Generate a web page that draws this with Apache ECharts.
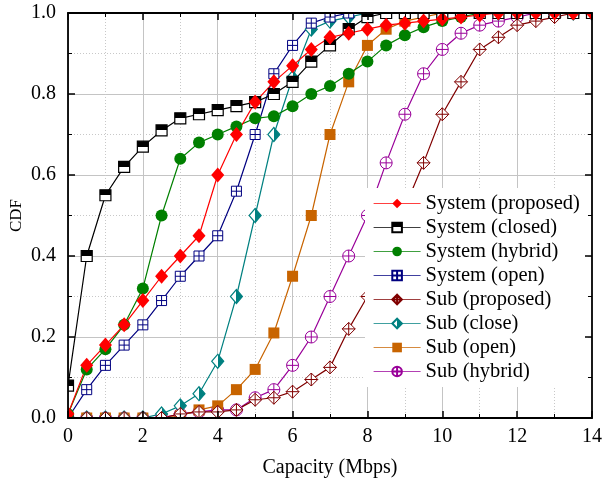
<!DOCTYPE html>
<html>
<head>
<meta charset="utf-8">
<script src="https://cdn.jsdelivr.net/npm/echarts@6/dist/echarts.min.js"></script>
<style>html,body{margin:0;padding:0;background:#fff}#c{width:603px;height:483px}</style>
</head>
<body>
<div id="c"></div>
<script>
const capacity = [0,0.5,1,1.5,2,2.5,3,3.5,4,4.5,5,5.5,6,6.5,7,7.5,8,8.5,9,9.5,10,10.5,11,11.5,12,12.5,13,13.5,14];
const xTicks = [0,2,4,6,8,10,12,14];
const yTicks = [0.0,0.2,0.4,0.6,0.8,1.0];

const sysProposed = [0.01,0.13,0.18,0.23,0.29,0.35,0.40,0.45,0.60,0.70,0.78,0.83,0.87,0.91,0.94,0.95,0.96,0.97,0.975,0.98,0.985,0.99,0.995,1,1,1,1,1,1];
const sysClosed   = [0.08,0.40,0.55,0.62,0.67,0.71,0.74,0.75,0.76,0.77,0.78,0.80,0.83,0.88,0.92,0.96,0.99,1,1,1,1,1,1,1,1,1,1,1,1];
const sysHybrid   = [0.01,0.12,0.17,0.23,0.32,0.50,0.64,0.68,0.70,0.72,0.74,0.745,0.77,0.80,0.82,0.85,0.88,0.92,0.945,0.965,0.98,0.99,1,1,1,1,1,1,1];
const sysOpen     = [0,0.07,0.13,0.18,0.23,0.29,0.35,0.40,0.45,0.56,0.70,0.85,0.92,0.975,0.99,1,1,1,1,1,1,1,1,1,1,1,1,1,1];
const subProposed = [0,0,0,0,0,0,0.01,0.015,0.015,0.02,0.045,0.05,0.065,0.095,0.125,0.22,0.30,0.40,0.52,0.63,0.75,0.83,0.91,0.94,0.97,0.98,0.99,1,1];
const subClose    = [0,0,0,0,0,0.01,0.03,0.06,0.14,0.30,0.50,0.70,0.84,0.96,0.98,0.99,1,1,1,1,1,1,1,1,1,1,1,1,1];
const subOpen     = [0,0,0,0,0,0,0.005,0.02,0.03,0.07,0.12,0.21,0.35,0.50,0.70,0.83,0.92,0.96,0.98,0.99,1,1,1,1,1,1,1,1,1];
const subHybrid   = [0,0,0,0,0,0,0.01,0.015,0.02,0.02,0.05,0.07,0.13,0.20,0.30,0.40,0.50,0.63,0.75,0.85,0.91,0.95,0.97,0.98,0.99,1,1,1,1];

const names = ['System (proposed)','System (closed)','System (hybrid)','System (open)','Sub (proposed)','Sub (close)','Sub (open)','Sub (hybrid)'];

const chart = echarts.init(document.getElementById('c'), null, {renderer:'canvas'});
const FONT = '"Liberation Serif","Times New Roman",serif';
const pairs = arr => capacity.map((x,i)=>[x,arr[i]]);
const G = echarts.graphic;

function mk(name, data, color, symbol, size, fill, bw) {
  return {
    name, type:'line', data:pairs(data), z:2,
    symbol, symbolSize:size, showSymbol:true,
    lineStyle:{color, width:1.2},
    itemStyle:{color:fill, borderColor:color, borderWidth:bw},
    emphasis:{disabled:true},
    clip:true, animation:false
  };
}
const cross = ' M5,0V10 M0,5H10';
const seriesList = [
  mk(names[0], sysProposed, '#ff0000', 'diamond', [13,15], '#ff0000', 0),
  mk(names[1], sysClosed, '#000000', 'rect', 11,
     new G.LinearGradient(0,0,0,1,[{offset:0,color:'#000'},{offset:0.5,color:'#000'},{offset:0.5,color:'#fff'},{offset:1,color:'#fff'}]), 1.2),
  mk(names[2], sysHybrid, '#008000', 'circle', 12, '#008000', 0),
  mk(names[3], sysOpen, '#000080', 'path://M0,0H10V10H0Z'+cross, 10, '#ffffff', 1),
  mk(names[4], subProposed, '#800000', 'path://M5,0L10,5L5,10L0,5Z'+cross, 13, '#ffffff', 1),
  mk(names[5], subClose, '#008080', 'diamond', [12,14],
     new G.LinearGradient(0,0,1,0,[{offset:0,color:'#fff'},{offset:0.5,color:'#fff'},{offset:0.5,color:'#008080'},{offset:1,color:'#008080'}]), 1.2),
  mk(names[6], subOpen, '#c86400', 'rect', 11, '#c86400', 0),
  mk(names[7], subHybrid, '#990099', 'path://M0,5A5,5 0 1,0 10,5A5,5 0 1,0 0,5Z'+cross, 12, '#ffffff', 1)
];

const frame = {
  z:10,
  axisLine:{show:true, onZero:false, lineStyle:{color:'#000', width:1.8}},
  axisTick:{show:true, inside:true, length:7, lineStyle:{color:'#000', width:1.5}},
  minorTick:{show:true, splitNumber:2, length:4, lineStyle:{color:'#000', width:1}},
  splitLine:{show:false}
};
const gridOnly = {
  z:0,
  axisLine:{show:false}, axisTick:{show:false}, axisLabel:{show:false},
  minorTick:{show:false, splitNumber:2},
  splitLine:{show:true, lineStyle:{color:'#c4c4c4', width:1}},
  minorSplitLine:{show:true, lineStyle:{color:'#c8c8c8', width:1, type:[1,2]}}
};
const xRange = {type:'value', min:xTicks[0], max:xTicks[xTicks.length-1], interval:2};
const yRange = {type:'value', min:yTicks[0], max:yTicks[yTicks.length-1], interval:0.2};

const option = {
  backgroundColor:'#fff',
  animation:false,
  grid:{left:68, right:11, top:13, bottom:65, containLabel:false, outerBoundsMode:'none'},
  legend:{
    data:names, left:365, top:188, orient:'vertical',
    itemWidth:47, itemHeight:12, itemGap:3,
    backgroundColor:'#ffffff', padding:[5,8,5,8],
    lineStyle:{width:1.2, opacity:0.75},
    textStyle:{fontFamily:FONT, fontSize:20.5, lineHeight:20, color:'#000'},
    selectedMode:false, z:10
  },
  xAxis:[
    Object.assign({}, xRange, frame, {position:'bottom',
      name:'Capacity (Mbps)', nameLocation:'middle', nameGap:40, nameMoveOverlap:false,
      nameTextStyle:{fontFamily:FONT, fontSize:20, color:'#000'},
      axisLabel:{fontFamily:FONT, fontSize:20, color:'#000', margin:9}}),
    Object.assign({}, xRange, frame, {position:'top', axisLabel:{show:false}}),
    Object.assign({}, xRange, gridOnly, {position:'bottom'})
  ],
  yAxis:[
    Object.assign({}, yRange, frame, {position:'left',
      name:'CDF', nameLocation:'middle', nameGap:43, nameMoveOverlap:false,
      nameTextStyle:{fontFamily:FONT, fontSize:17, color:'#000'},
      axisLabel:{fontFamily:FONT, fontSize:20, color:'#000', margin:12, formatter:v=>v.toFixed(1)}}),
    Object.assign({}, yRange, frame, {position:'right', axisLabel:{show:false}}),
    Object.assign({}, yRange, gridOnly, {position:'left'})
  ],
  graphic:{elements:[
    {type:'rect', z:5, silent:true, shape:{x:0, y:0, width:68, height:483}, style:{fill:'#fff'}},
    {type:'rect', z:5, silent:true, shape:{x:0, y:418, width:603, height:65}, style:{fill:'#fff'}},
    {type:'rect', z:5, silent:true, shape:{x:0, y:0, width:603, height:13}, style:{fill:'#fff'}},
    {type:'rect', z:5, silent:true, shape:{x:592, y:0, width:11, height:483}, style:{fill:'#fff'}}
  ]},
  series: seriesList.slice().reverse()
};
chart.setOption(option);
</script>
</body>
</html>
